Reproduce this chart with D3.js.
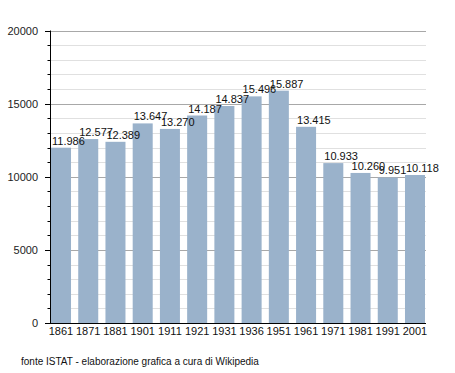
<!DOCTYPE html>
<html>
<head>
<meta charset="utf-8">
<script src="https://cdn.jsdelivr.net/npm/d3@7"></script>
<style>
  body { margin: 0; background: #fff; }
  text { font-family: "Liberation Sans", Arial, sans-serif; }
</style>
</head>
<body>
<div id="chart"></div>
<script>
// dati censimenti
const years = ["1861","1871","1881","1901","1911","1921","1931","1936","1951","1961","1971","1981","1991","2001"];
const population = [11986, 12577, 12389, 13647, 13270, 14187, 14837, 15496, 15887, 13415, 10933, 10260, 9951, 10118];
const labels = ["11.986","12.577","12.389","13.647","13.270","14.187","14.837","15.496","15.887","13.415","10.933","10.260","9.951","10.118"];
const majorTicks = [0, 5000, 10000, 15000, 20000];
const source = "fonte ISTAT - elaborazione grafica a cura di Wikipedia";

const width = 455, height = 373;
const mLeft = 51, mRight = 425, mTop = 30.5, mBottom = 323;

const svg = d3.select("#chart").append("svg")
    .attr("width", width)
    .attr("height", height);

const x = d3.scaleBand()
    .domain(years)
    .range([mLeft, mRight])
    .paddingInner(0.265)
    .paddingOuter(0);

const y = d3.scaleLinear()
    .domain([0, 20000])
    .range([mBottom, mTop]);

const minorTicks = d3.range(1000, 20000, 1000).filter(v => v % 5000 !== 0);
const py = d => Math.round(y(d)) + 0.5;

// griglia minore
svg.append("g")
    .selectAll("line")
    .data(minorTicks)
    .join("line")
    .attr("x1", mLeft).attr("x2", mRight + 1)
    .attr("y1", py).attr("y2", py)
    .attr("stroke", "#e0e0e0");

// griglia maggiore
svg.append("g")
    .selectAll("line")
    .data(majorTicks.filter(d => d > 0))
    .join("line")
    .attr("x1", mLeft).attr("x2", mRight + 1)
    .attr("y1", py).attr("y2", py)
    .attr("stroke", "#a8a8a8");

// barre
svg.append("g")
    .selectAll("rect")
    .data(population)
    .join("rect")
    .attr("x", (d, i) => x(years[i]))
    .attr("y", d => y(d))
    .attr("width", x.bandwidth())
    .attr("height", d => y(0) - y(d))
    .attr("fill", "#9ab2cb");

// etichette valori
svg.append("g")
    .selectAll("text")
    .data(population)
    .join("text")
    .attr("x", (d, i) => x(years[i]) + 1)
    .attr("y", d => y(d) - 3)
    .attr("font-size", "11px")
    .attr("fill", "#111")
    .text((d, i) => labels[i]);

// asse y
const yAxisG = svg.append("g");
yAxisG.append("line")
    .attr("x1", 50.5).attr("x2", 50.5)
    .attr("y1", mTop).attr("y2", mBottom)
    .attr("stroke", "#000");
yAxisG.selectAll("line.major")
    .data(majorTicks)
    .join("line")
    .attr("class", "major")
    .attr("x1", 45).attr("x2", 50.5)
    .attr("y1", py).attr("y2", py)
    .attr("stroke", "#000");
yAxisG.selectAll("line.minor")
    .data(minorTicks)
    .join("line")
    .attr("class", "minor")
    .attr("x1", 47.5).attr("x2", 50.5)
    .attr("y1", py).attr("y2", py)
    .attr("stroke", "#000");
yAxisG.selectAll("text")
    .data(majorTicks)
    .join("text")
    .attr("x", 38)
    .attr("y", d => y(d) + 4)
    .attr("text-anchor", "end")
    .attr("font-size", "11px")
    .attr("fill", "#222")
    .text(d => d);

// asse x
svg.append("line")
    .attr("x1", 45).attr("x2", mRight + 1)
    .attr("y1", mBottom + 0.5).attr("y2", mBottom + 0.5)
    .attr("stroke", "#000");
svg.append("g")
    .selectAll("text")
    .data(years)
    .join("text")
    .attr("x", d => x(d) + x.bandwidth() / 2)
    .attr("y", mBottom + 12)
    .attr("text-anchor", "middle")
    .attr("font-size", "11px")
    .attr("fill", "#111")
    .text(d => d);

svg.append("text")
    .attr("x", 21)
    .attr("y", 365)
    .attr("font-size", "10px")
    .attr("fill", "#111")
    .text(source);
</script>
</body>
</html>
